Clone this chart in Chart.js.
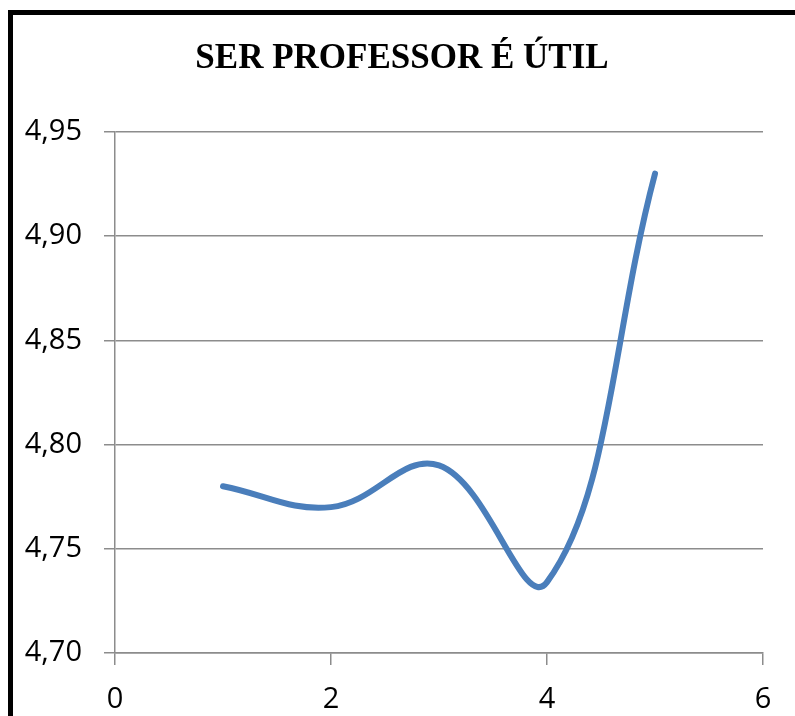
<!DOCTYPE html>
<html>
<head>
<meta charset="utf-8">
<script src="https://cdn.jsdelivr.net/npm/chart.js@4.4.0/dist/chart.umd.min.js"></script>
<style>
html,body{margin:0;padding:0;background:#fff;overflow:hidden;}
#wrap{position:relative;width:795px;height:716px;}
#frame{position:absolute;left:8px;top:10px;width:800px;height:720px;border-left:5px solid #000;border-top:5px solid #000;box-sizing:border-box;pointer-events:none;}
canvas{position:absolute;left:0;top:0;}
</style>
</head>
<body>
<div id="wrap">
<canvas id="c" width="795" height="716"></canvas>
<div id="frame"></div>
</div>
<script>
const titleText = 'SER PROFESSOR É ÚTIL';
const xValues = [1, 2, 3, 4, 5];
const yValues = [4.78, 4.77, 4.79, 4.734, 4.93];
const yTicks = [4.70, 4.75, 4.80, 4.85, 4.90, 4.95];
const xTicks = [0, 2, 4, 6];

const points = xValues.map((x, i) => ({x: x, y: yValues[i]}));
const gridColor = '#8c8c8c';

new Chart(document.getElementById('c'), {
  type: 'line',
  data: {
    datasets: [{
      data: points,
      borderColor: '#4a7ebb',
      borderWidth: 6,
      pointRadius: 0,
      tension: 0.4,
      fill: false,
      borderCapStyle: 'round'
    }]
  },
  options: {
    responsive: false,
    animation: false,
    layout: {padding: {left: 9, right: 0, top: 0, bottom: 0}},
    plugins: {
      legend: {display: false},
      tooltip: {enabled: false},
      title: {
        display: true,
        text: titleText,
        color: '#000',
        font: {family: '"Liberation Serif", "Times New Roman", serif', size: 35, weight: 'bold'},
        padding: {top: 38, bottom: 52}
      }
    },
    scales: {
      x: {
        type: 'linear',
        min: 0, max: 6,
        afterBuildTicks: (s) => { s.ticks = xTicks.map(v => ({value: v})); },
        afterFit: (s) => { s.height = 63; },
        ticks: {
          color: '#000',
          font: {family: '"Open Sans", sans-serif', size: 29},
          padding: 17,
          maxRotation: 0
        },
        grid: {drawOnChartArea: false, drawTicks: true, tickLength: 12, color: gridColor, lineWidth: 1.5},
        border: {display: true, color: gridColor, width: 1.5}
      },
      y: {
        min: 4.70, max: 4.95,
        afterBuildTicks: (s) => { s.ticks = yTicks.map(v => ({value: v})); },
        afterFit: (s) => { s.width = 106; },
        ticks: {
          color: '#000',
          font: {family: '"Open Sans", sans-serif', size: 29},
          padding: 22,
          callback: (v) => Number(v).toFixed(2).replace('.', ',')
        },
        grid: {drawOnChartArea: true, drawTicks: true, tickLength: 11, color: gridColor, lineWidth: 1.5},
        border: {display: true, color: gridColor, width: 1.5}
      },
      yRight: {
        position: 'right',
        display: true,
        min: 0, max: 1,
        afterFit: (s) => { s.width = 32; },
        ticks: {display: false},
        grid: {display: false},
        border: {display: false}
      }
    }
  }
});
</script>
</body>
</html>
